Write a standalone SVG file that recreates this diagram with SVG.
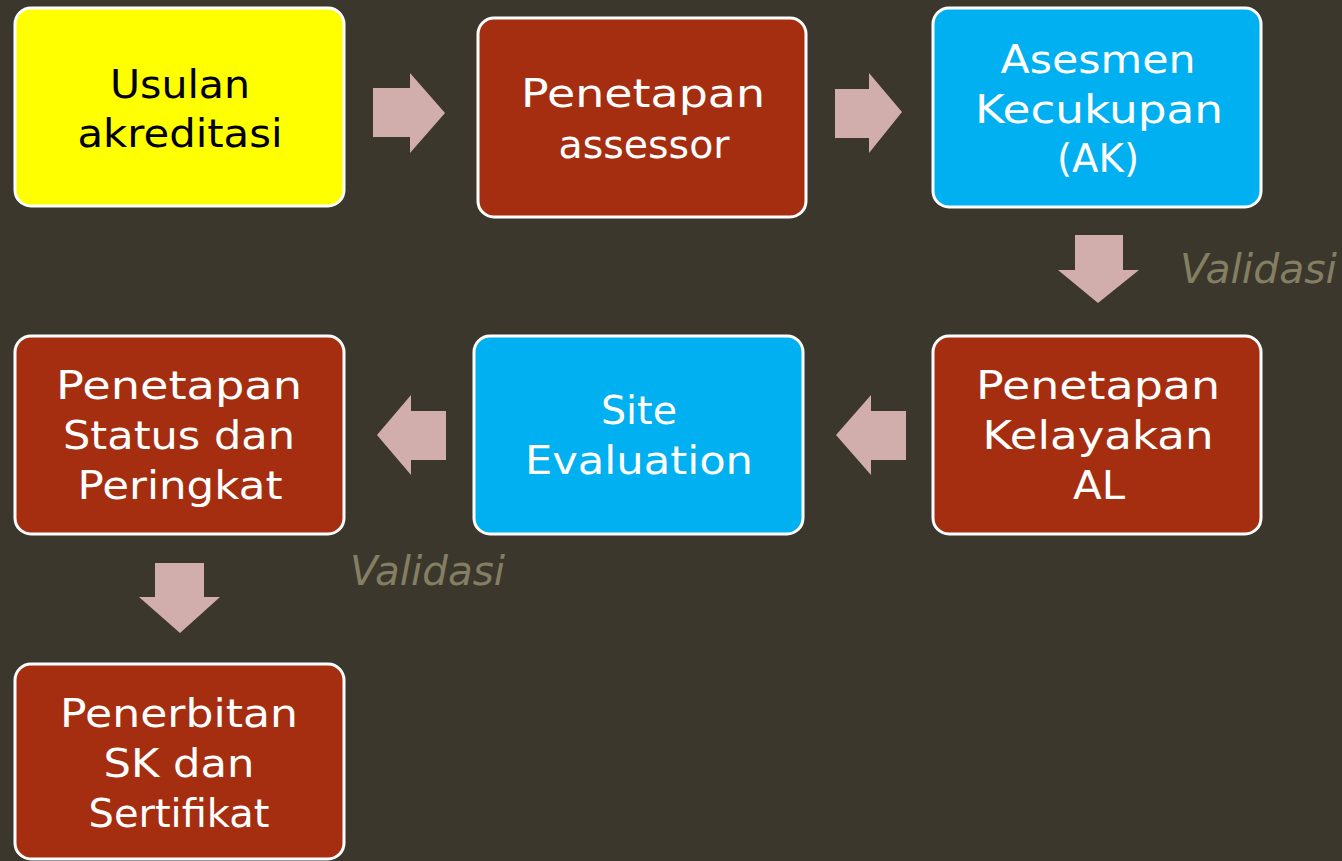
<svg xmlns="http://www.w3.org/2000/svg" width="1342" height="861" viewBox="0 0 1342 861">
<style>
.box{stroke:#ffffff;stroke-width:3}
.yellow{fill:#ffff00}
.red{fill:#a52e10}
.blue{fill:#00b0f0}
.t{font-family:"DejaVu Sans","Liberation Sans",sans-serif;font-size:39px;text-anchor:middle}
.w{fill:#ffffff}
.k{fill:#000000}
.arrow{fill:#d1aeab}
.val{font-family:"DejaVu Sans","Liberation Sans",sans-serif;font-size:40px;font-style:italic;fill:#847e62}
</style>
<rect x="0" y="0" width="1342" height="861" fill="#3b372c"/>
<g id="connectors">
<polygon class="arrow" points="373,88 410,88 410,73 445,113 410,153 410,137 373,137"/>
<polygon class="arrow" points="835,89 869,89 869,73 902,112 869,153 869,138 835,138"/>
<polygon class="arrow" points="1075,235 1123,235 1123,270 1139,270 1098,303 1058,270 1075,270"/>
<polygon class="arrow" points="906,411 871,411 871,395 836,435 871,475 871,460 906,460"/>
<polygon class="arrow" points="446,411 411,411 411,395 377,435 411,475 411,460 446,460"/>
<polygon class="arrow" points="155,563 204,563 204,597 220,597 180,633 139,597 155,597"/>
<text class="val" x="1180" y="283" textLength="157" lengthAdjust="spacingAndGlyphs">Validasi</text>
<text class="val" x="350" y="585" textLength="155" lengthAdjust="spacingAndGlyphs">Validasi</text>
</g>
<g id="n1">
<rect class="box yellow" x="15" y="8" width="329" height="198" rx="16"/>
<text class="t k" x="180" y="98" textLength="140" lengthAdjust="spacingAndGlyphs">Usulan</text>
<text class="t k" x="180" y="147" textLength="205" lengthAdjust="spacingAndGlyphs">akreditasi</text>
</g>
<g id="n2">
<rect class="box red" x="478" y="18" width="328" height="199" rx="16"/>
<text class="t w" x="643" y="107" textLength="244" lengthAdjust="spacingAndGlyphs">Penetapan</text>
<text class="t w" x="644" y="158" textLength="171" lengthAdjust="spacingAndGlyphs">assessor</text>
</g>
<g id="n3">
<rect class="box blue" x="933" y="8" width="328" height="199" rx="16"/>
<text class="t w" x="1098" y="73" textLength="195" lengthAdjust="spacingAndGlyphs">Asesmen</text>
<text class="t w" x="1099" y="123" textLength="248" lengthAdjust="spacingAndGlyphs">Kecukupan</text>
<text class="t w" x="1098" y="172" textLength="82" lengthAdjust="spacingAndGlyphs">(AK)</text>
</g>
<g id="n4">
<rect class="box red" x="933" y="336" width="328" height="198" rx="16"/>
<text class="t w" x="1098" y="399" textLength="244" lengthAdjust="spacingAndGlyphs">Penetapan</text>
<text class="t w" x="1098" y="449" textLength="231" lengthAdjust="spacingAndGlyphs">Kelayakan</text>
<text class="t w" x="1099" y="499" textLength="52" lengthAdjust="spacingAndGlyphs">AL</text>
</g>
<g id="n5">
<rect class="box blue" x="474" y="336" width="329" height="198" rx="16"/>
<text class="t w" x="639" y="424" textLength="76" lengthAdjust="spacingAndGlyphs">Site</text>
<text class="t w" x="639" y="474" textLength="228" lengthAdjust="spacingAndGlyphs">Evaluation</text>
</g>
<g id="n6">
<rect class="box red" x="15" y="336" width="329" height="198" rx="16"/>
<text class="t w" x="179" y="399" textLength="246" lengthAdjust="spacingAndGlyphs">Penetapan</text>
<text class="t w" x="179" y="449" textLength="232" lengthAdjust="spacingAndGlyphs">Status dan</text>
<text class="t w" x="180" y="499" textLength="205" lengthAdjust="spacingAndGlyphs">Peringkat</text>
</g>
<g id="n7">
<rect class="box red" x="15" y="664" width="329" height="195" rx="16"/>
<text class="t w" x="179" y="727" textLength="238" lengthAdjust="spacingAndGlyphs">Penerbitan</text>
<text class="t w" x="179" y="777" textLength="151" lengthAdjust="spacingAndGlyphs">SK dan</text>
<text class="t w" x="179" y="827" textLength="181" lengthAdjust="spacingAndGlyphs">Sertifikat</text>
</g>
</svg>
